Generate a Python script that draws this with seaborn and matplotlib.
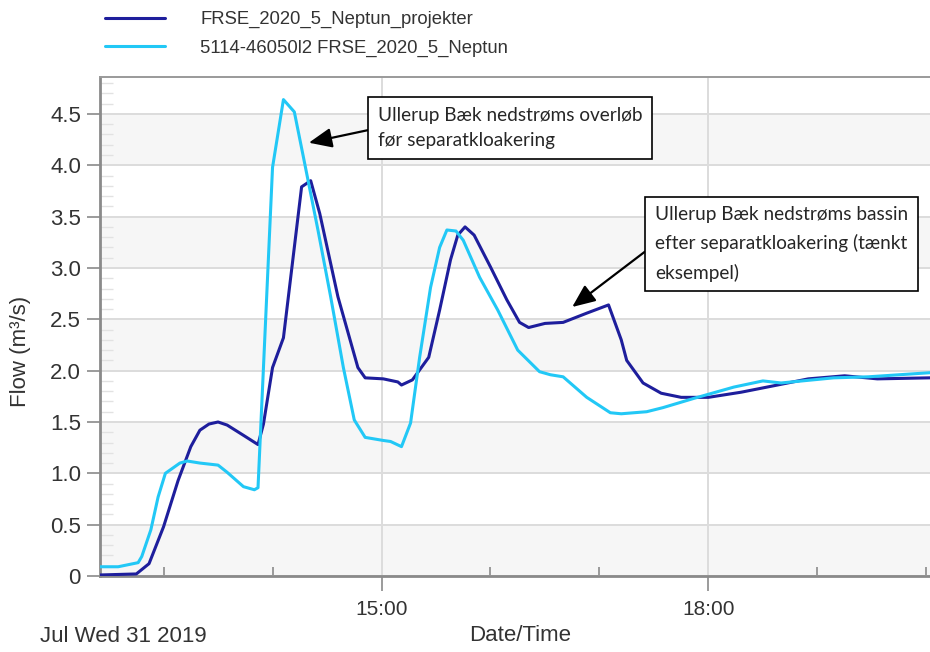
import matplotlib
matplotlib.use("Agg")
import matplotlib.pyplot as plt
import matplotlib.dates as mdates
from matplotlib.ticker import MultipleLocator, FixedLocator
import numpy as np
import pandas as pd
import seaborn as sns

# ---------------- data ----------------
DATE = "2019-07-31"
series_names = ["FRSE_2020_5_Neptun_projekter", "5114-46050l2 FRSE_2020_5_Neptun"]
series_colors = ["#1e1e9c", "#22c8f6"]

proj_times = ["12:25", "12:45", "12:52", "13:00", "13:08", "13:15", "13:20", "13:25",
              "13:30", "13:35", "13:44", "13:52", "13:55", "14:00", "14:06", "14:16",
              "14:21", "14:26", "14:36", "14:47", "14:51", "15:01", "15:09", "15:11",
              "15:17", "15:26", "15:32", "15:38", "15:42", "15:46", "15:51", "16:00",
              "16:09", "16:16", "16:21", "16:30", "16:40", "16:53", "17:05", "17:12",
              "17:15", "17:24", "17:34", "17:45", "18:00", "18:18", "18:38", "18:55",
              "19:15", "19:33", "20:02"]
proj_flow = [0.01, 0.02, 0.12, 0.48, 0.93, 1.26, 1.42, 1.48,
             1.50, 1.47, 1.37, 1.28, 1.48, 2.03, 2.32, 3.79,
             3.85, 3.53, 2.72, 2.03, 1.93, 1.92, 1.89, 1.86,
             1.91, 2.13, 2.59, 3.08, 3.32, 3.40, 3.32, 3.01,
             2.69, 2.47, 2.42, 2.46, 2.47, 2.56, 2.64, 2.30,
             2.10, 1.88, 1.78, 1.74, 1.74, 1.79, 1.86, 1.92,
             1.95, 1.92, 1.93]

nep_times = ["12:25", "12:35", "12:46", "12:48", "12:53", "12:57", "13:01", "13:09",
             "13:13", "13:20", "13:30", "13:35", "13:44", "13:50", "13:52", "14:00",
             "14:06", "14:12", "14:17", "14:25", "14:32", "14:39", "14:45", "14:51",
             "15:01", "15:05", "15:11", "15:16", "15:21", "15:27", "15:32", "15:36",
             "15:41", "15:45", "15:54", "16:04", "16:15", "16:27", "16:33", "16:40",
             "16:53", "17:06", "17:12", "17:26", "17:35", "17:52", "18:14", "18:30",
             "18:40", "19:09", "19:28", "20:02"]
nep_flow = [0.09, 0.09, 0.13, 0.19, 0.45, 0.77, 1.00, 1.10,
            1.12, 1.10, 1.08, 1.01, 0.87, 0.84, 0.86, 3.98,
            4.64, 4.52, 4.08, 3.37, 2.72, 2.03, 1.52, 1.35,
            1.32, 1.31, 1.26, 1.49, 2.13, 2.81, 3.20, 3.37,
            3.36, 3.27, 2.91, 2.59, 2.20, 1.99, 1.96, 1.94,
            1.74, 1.59, 1.58, 1.60, 1.64, 1.73, 1.84, 1.90,
            1.88, 1.93, 1.94, 1.98]

y_ticks = [0, 0.5, 1.0, 1.5, 2.0, 2.5, 3.0, 3.5, 4.0, 4.5]
y_tick_labels = ["0", "0.5", "1.0", "1.5", "2.0", "2.5", "3.0", "3.5", "4.0", "4.5"]
x_major_hours = [15, 18]
x_range = ["12:25", "20:02"]
y_max = 4.86

note1 = "Ullerup Bæk nedstrøms overløb\nfør separatkloakering"
note1_target = ("14:20", 4.22)
note2 = "Ullerup Bæk nedstrøms bassin\nefter separatkloakering (tænkt\neksempel)"
note2_target = ("16:45", 2.62)

def ts(hm):
    return pd.Timestamp(f"{DATE} {hm}")

df = pd.concat([
    pd.DataFrame({"time": [ts(t) for t in proj_times], "flow": proj_flow, "series": series_names[0]}),
    pd.DataFrame({"time": [ts(t) for t in nep_times], "flow": nep_flow, "series": series_names[1]}),
], ignore_index=True)

# ---------------- style ----------------
sns.set_theme(style="white")
plt.rcParams["font.family"] = ["Liberation Sans", "DejaVu Sans"]

W, H = 930, 652
fig = plt.figure(figsize=(W / 100, H / 100), dpi=100)
ax = fig.add_axes([100 / W, 76 / H, 830 / W, 499 / H])

sns.lineplot(data=df, x="time", y="flow", hue="series", hue_order=series_names,
             palette=series_colors, linewidth=2.2, ax=ax, legend=False, sort=False,
             zorder=3)

# alternating bands
for lo in y_ticks[::2]:
    ax.axhspan(lo, lo + 0.5, color="#f6f6f6", zorder=0.1, lw=0)

ax.set_xlim(ts(x_range[0]), ts(x_range[1]))
ax.set_ylim(0, y_max)

ax.yaxis.set_major_locator(FixedLocator(y_ticks))
ax.set_yticklabels(y_tick_labels)
ax.yaxis.set_minor_locator(MultipleLocator(0.1))

ax.xaxis.set_major_locator(mdates.HourLocator(byhour=x_major_hours))
ax.xaxis.set_major_formatter(mdates.DateFormatter("%H:%M"))
ax.xaxis.set_minor_locator(mdates.HourLocator())

ax.set_axisbelow(True)
ax.grid(True, which="major", color="#dcdcdc", linewidth=1.4)

ax.tick_params(axis="y", which="major", length=9.4, width=1.2, direction="out", color="#8a8a8a",
               pad=4.3, labelsize=16, labelcolor="#333333", left=True)
ax.tick_params(axis="y", which="minor", length=9, width=1, direction="in", color="#e2e2e2", left=True)
ax.tick_params(axis="x", which="major", length=11, width=1.2, direction="out", color="#8a8a8a",
               pad=6, labelsize=15, labelcolor="#333333", bottom=True)
ax.tick_params(axis="x", which="minor", length=6.5, width=1.2, direction="in", color="#8a8a8a", bottom=True)

for s in ["left", "bottom"]:
    ax.spines[s].set_color("#8a8a8a")
    ax.spines[s].set_linewidth(2)
ax.spines["top"].set_color("#9a9a9a")
ax.spines["top"].set_linewidth(1.4)
ax.spines["right"].set_visible(False)

ax.set_ylabel("Flow (m³/s)", fontsize=16, color="#333333")
ax.yaxis.set_label_coords((31 - 100) / 830, (576 - 351) / 499)
ax.set_xlabel("Date/Time", fontsize=16, color="#333333")
ax.xaxis.set_label_coords((520 - 100) / 830, (576 - 625) / 499)

fig.text(40 / W, 1 - 636 / H, "Jul Wed 31 2019", fontsize=16, color="#333333",
         ha="left", va="center")

# legend
handles = ax.get_lines()[:2]
fig.legend(handles, series_names, loc="upper left", bbox_to_anchor=(105 / W, 1 - 11 / H),
           frameon=False, fontsize=13.3, handlelength=3.25, handletextpad=1.9,
           labelspacing=0.62, borderpad=0, borderaxespad=0, labelcolor="#333333")

# annotations
note_font = ["Lato", "DejaVu Sans"]
arrow = dict(arrowstyle="-|>,head_length=0.7,head_width=0.3", color="black", lw=1.6,
             mutation_scale=20, shrinkA=0, shrinkB=0, relpos=(0, 0.5))
ax.annotate(note1, xy=(ts(note1_target[0]), note1_target[1]), xycoords="data",
            xytext=(378, H - 128), textcoords="figure pixels",
            ha="left", va="center", fontsize=13.7, family=note_font, linespacing=1.6,
            bbox=dict(boxstyle="square,pad=0.5", fc="white", ec="black", lw=1.2),
            arrowprops=arrow, zorder=5)
ax.annotate(note2, xy=(ts(note2_target[0]), note2_target[1]), xycoords="data",
            xytext=(655, H - 244), textcoords="figure pixels",
            ha="left", va="center", fontsize=13.7, family=note_font, linespacing=1.75,
            bbox=dict(boxstyle="square,pad=0.5", fc="white", ec="black", lw=1.2),
            arrowprops=arrow, zorder=5, annotation_clip=False)

fig.savefig("out.png", dpi=100)
